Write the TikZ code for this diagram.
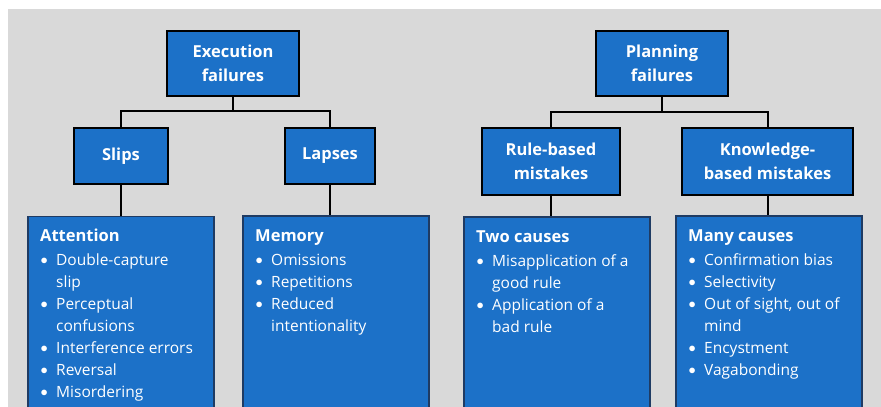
\documentclass[tikz,border=0pt]{standalone}
\usepackage{fontspec}
\setmainfont{Open Sans}
\definecolor{boxblue}{HTML}{1C71C8}
\definecolor{panelgray}{HTML}{D9D9D9}
\definecolor{edgenavy}{HTML}{1F3B63}
% bullet and continuation indents for the list panels
\newcommand{\itm}{\makebox[16pt][l]{\hspace{0.3pt}\raisebox{0.6pt}{$\bullet$}}}
\newcommand{\cont}{\hspace*{16pt}}
\newcommand{\panelhead}[1]{{\bfseries\fontsize{16.5}{22}\selectfont #1}}
% list body: first row baseline is the reference point
\newenvironment{panellist}{\begin{tabular}[t]{@{}l@{}}}{\end{tabular}}

\begin{document}
\begin{tikzpicture}[x=1pt,y=-1pt,
  headbox/.style={draw=black,line width=2pt,fill=boxblue,text=white,
    font=\bfseries\fontsize{16.5}{24.5}\selectfont,align=center,inner sep=0pt},
  listbox/.style={draw=edgenavy,line width=1.5pt,fill=boxblue,anchor=north west,
    minimum width=186pt,minimum height=230pt,inner sep=0pt},
  listtext/.style={anchor=base west,text=white,inner sep=0pt,
    font=\fontsize{15.5}{22}\selectfont},
  link/.style={draw=black,line width=2pt}]

\useasboundingbox (0,0) rectangle (881,407);
\clip (0,0) rectangle (881,407);
\fill[panelgray] (8,9) rectangle (881,407);

% upper level: failure categories
\node[headbox,minimum width=132pt,minimum height=65pt] (exec) at (233,63.5) {Execution\\failures};
\node[headbox,minimum width=132pt,minimum height=65pt] (plan) at (662,63.5) {Planning\\failures};

% middle level
\node[headbox,minimum width=94pt,minimum height=56pt] (slips) at (121,156) {Slips};
\node[headbox,minimum width=90pt,minimum height=56pt] (lapses) at (330,156) {Lapses};
\node[headbox,minimum width=138pt,minimum height=67pt] (rule) at (551,161.5) {Rule-based\\mistakes};
\node[headbox,minimum width=171pt,minimum height=67pt] (know) at (767.5,161.5) {Knowledge-\\based mistakes};

% lower level: panels with lists
\node[listbox] (attbox) at (27,215.5) {};
\node[listbox] (membox) at (242,215) {};
\node[listbox] (twobox) at (463,216) {};
\node[listbox] (manybox) at (675,215) {};

\node[listtext] (atttext) at (40,241) {\begin{panellist}\panelhead{Attention}\\[2pt]
  \itm Double-capture\\ \cont slip\\ \itm Perceptual\\ \cont confusions\\
  \itm Interference errors\\ \itm Reversal\\ \itm Misordering\end{panellist}};
\node[listtext] (memtext) at (255,241) {\begin{panellist}\panelhead{Memory}\\[2pt]
  \itm Omissions\\ \itm Repetitions\\ \itm Reduced\\ \cont intentionality\end{panellist}};
\node[listtext] (twotext) at (476,242) {\begin{panellist}\panelhead{Two causes}\\[2pt]
  \itm Misapplication of a\\ \cont good rule\\ \itm Application of a\\ \cont bad rule\end{panellist}};
\node[listtext] (manytext) at (688,241) {\begin{panellist}\panelhead{Many causes}\\[2pt]
  \itm Confirmation bias\\ \itm Selectivity\\ \itm Out of sight, out of\\ \cont mind\\
  \itm Encystment\\ \itm Vagabonding\end{panellist}};

% tree connectors
\coordinate (ebar) at (233,111);
\coordinate (pbar) at (662,112);
\draw[link] (exec.south) -- (ebar);
\draw[link] (slips.north) |- (ebar) -| (lapses.north);
\draw[link] (plan.south) -- (pbar);
\draw[link] (rule.north) |- (pbar) -| (know.north);

\draw[link] (slips.south) -- (slips.south |- attbox.north);
\draw[link] (lapses.south) -- (lapses.south |- membox.north);
\draw[link] (rule.south) -- (rule.south |- twobox.north);
\draw[link] (know.south) -- (know.south |- manybox.north);
\end{tikzpicture}
\end{document}
